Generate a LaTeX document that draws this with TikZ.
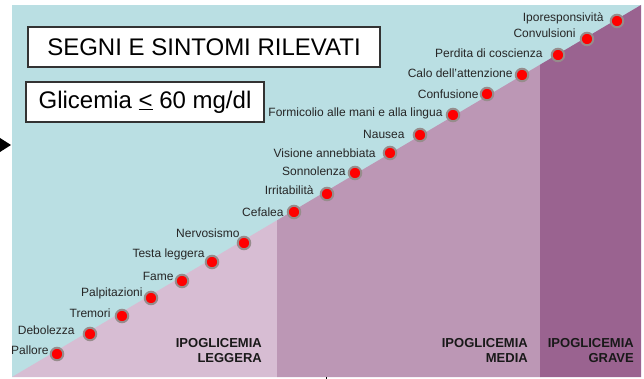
\documentclass[tikz,border=0pt]{standalone}
\usepackage{fontspec}
\setmainfont{Liberation Sans}
\usepackage{tikz}
\usetikzlibrary{calc}
\definecolor{cielo}{RGB}{186,223,227}
\definecolor{lieve}{RGB}{215,189,211}
\definecolor{medio}{RGB}{188,151,181}
\definecolor{grave}{RGB}{154,99,144}
\definecolor{bordo}{RGB}{150,140,140}
\tikzstyle{spot}=[draw=bordo, fill=red, shape=circle, line width=2pt, minimum size=12.5pt, inner sep=0pt]
\tikzstyle{lbl}=[anchor=east, inner sep=0pt, text height=8.6pt, text depth=0pt, font=\fontsize{12}{12}\selectfont, text=black!85]
\tikzstyle{titolo}=[draw=black!80, fill=white, line width=1.2pt, inner sep=0pt, font=\fontsize{24}{24}\selectfont]
\tikzstyle{grado}=[anchor=east, align=right, inner sep=0pt, font=\bfseries\fontsize{13}{15}\selectfont, text=black!90]

\begin{document}
\begin{tikzpicture}[x=1pt, y=-1pt]
\useasboundingbox (0,0) rectangle (644,379);
\fill[white] (0,0) rectangle (644,379);
% fondo e fasce
\fill[cielo] (12,5) rectangle (641,377);
\fill[lieve] (12,377) -- (277,220.3) -- (277,377) -- cycle;
\fill[medio] (277,220.3) -- (540,64.7) -- (540,377) -- (277,377) -- cycle;
\fill[grave] (540,64.7) -- (641,5) -- (641,377) -- (540,377) -- cycle;
\fill[black] (0,138) -- (11,145) -- (0,152) -- cycle;
\draw[line width=0.8pt] (326,377) -- (326,379);
%
\node[titolo, minimum width=352pt, minimum height=40pt] (segni) at (204,47) {SEGNI E SINTOMI RILEVATI};
\node[titolo, minimum width=238pt, minimum height=40pt] (glic) at (145,102) {Glicemia \underline{<} 60 mg/dl};
%
\node[spot, label={[lbl, xshift=-1pt, yshift=4pt]left:Pallore}] (pallore) at (57,354) {};
\node[spot, label={[lbl, xshift=-8pt, yshift=4pt]left:Debolezza}] (debolezza) at (90,334) {};
\node[spot, label={[lbl, xshift=-4pt, yshift=3pt]left:Tremori}] (tremori) at (122,316) {};
\node[spot, label={[lbl, xshift=-1pt, yshift=6pt]left:Palpitazioni}] (palpit) at (151,298) {};
\node[spot, label={[lbl, xshift=-1pt, yshift=5pt]left:Fame}] (fame) at (182,281) {};
\node[spot, label={[lbl, xshift=0pt, yshift=9pt]left:Testa leggera}] (testa) at (212,262) {};
\node[spot, label={[lbl, xshift=3pt, yshift=10pt]left:Nervosismo}] (nervos) at (244,243) {};
\node[spot, label={[lbl, xshift=-3pt, yshift=0pt]left:Cefalea}] (cefalea) at (294,212) {};
\node[spot, label={[lbl, xshift=-6pt, yshift=4pt]left:Irritabilità}] (irrit) at (327,194) {};
\node[spot, label={[lbl, xshift=-2pt, yshift=2pt]left:Sonnolenza}] (sonno) at (355,173) {};
\node[spot, label={[lbl, xshift=-7pt, yshift=0pt]left:Visione annebbiata}] (visione) at (390,153) {};
\node[spot, label={[lbl, xshift=-8pt, yshift=1pt]left:Nausea}] (nausea) at (420,135) {};
\node[spot, label={[lbl, xshift=-3pt, yshift=3pt]left:Formicolio alle mani e alla lingua}] (formic) at (453,115) {};
\node[spot, label={[lbl, xshift=-1pt, yshift=0pt]left:Confusione}] (confus) at (487,94) {};
\node[spot, label={[lbl, xshift=-2pt, yshift=2pt]left:Calo dell'attenzione}] (calo) at (522,75) {};
\node[spot, label={[lbl, xshift=-8pt, yshift=2pt]left:Perdita di coscienza}] (perdita) at (558,55) {};
\node[spot, label={[lbl, xshift=-4pt, yshift=6pt]left:Convulsioni}] (convuls) at (587,39) {};
\node[spot, label={[lbl, xshift=-6pt, yshift=4pt]left:Iporesponsività}] (iporesp) at (617,21) {};
%
\node[grado] (leggera) at (262,350.5) {IPOGLICEMIA\\LEGGERA};
\node[grado] (media) at (528,350.5) {IPOGLICEMIA\\MEDIA};
\node[grado] (gravelab) at (634,350.5) {IPOGLICEMIA\\GRAVE};
\end{tikzpicture}
\end{document}
